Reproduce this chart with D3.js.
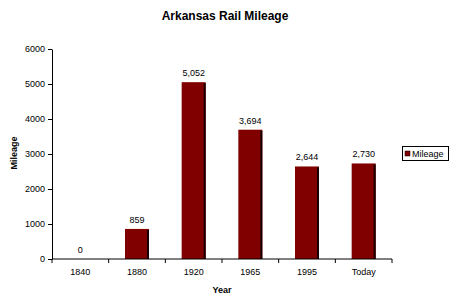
<!DOCTYPE html>
<html><head><meta charset="utf-8">
<script src="https://cdn.jsdelivr.net/npm/d3@7"></script>
<style>body{margin:0;background:#fff}svg{display:block;font-family:"Liberation Sans",Arial,sans-serif}</style>
</head><body><svg id="c" width="451" height="305"></svg>
<script>
const categories = ["1840","1880","1920","1965","1995","Today"];
const mileage = [0, 859, 5052, 3694, 2644, 2730];
const yTicks = [0,1000,2000,3000,4000,5000,6000];

(function(){
const svg = d3.select("#c");
const pLeft = 52, pRight = 392, pTop = 49, pBottom = 259;
const x = d3.scaleBand().domain(categories).range([pLeft, pRight]).paddingInner(0).paddingOuter(0);
const y = d3.scaleLinear().domain([0, 6000]).range([pBottom, pTop]);
const barW = 24;

svg.append("text").attr("x", 225).attr("y", 20).attr("text-anchor", "middle")
  .attr("font-size", 12).attr("font-weight", "bold").text("Arkansas Rail Mileage");

const g = svg.append("g");
categories.forEach((c, i) => {
  const v = mileage[i];
  const cx = x(c) + x.bandwidth() / 2;
  const h = pBottom - y(v);
  if (h > 0) {
    g.append("rect").attr("x", cx - barW / 2).attr("y", y(v)).attr("width", barW).attr("height", h).attr("fill", "#800000");
    g.append("rect").attr("x", cx + barW / 2 - 2).attr("y", y(v) + 1).attr("width", 2).attr("height", h - 1).attr("fill", "#1a0000");
  }
  g.append("text").attr("x", cx).attr("y", y(v) - 6).attr("text-anchor", "middle")
    .attr("font-size", 9).text(d3.format(",")(v));
});

const ya = svg.append("g").attr("transform", `translate(${pLeft},0)`)
  .call(d3.axisLeft(y).tickValues(yTicks).tickSize(4).tickSizeOuter(0).tickFormat(d3.format("d")));
ya.selectAll("text").attr("font-size", 9).attr("font-family", "Liberation Sans, Arial, sans-serif").attr("fill", "#000");
ya.selectAll("line,path").attr("stroke", "#000");

const xa = svg.append("g").attr("transform", `translate(0,${pBottom})`)
  .call(d3.axisBottom(x).tickSize(0).tickPadding(10));
xa.selectAll("text").attr("font-size", 9).attr("font-family", "Liberation Sans, Arial, sans-serif").attr("fill", "#000");
xa.select("path").attr("stroke", "#000").attr("d", `M${pLeft},0H${pRight}`);
const bounds = categories.map(c => x(c)).concat([pRight]);
xa.selectAll(".bnd").data(bounds).enter().append("line")
  .attr("x1", d => d).attr("x2", d => d).attr("y1", 0).attr("y2", 4).attr("stroke", "#000");

svg.append("text").attr("x", 222).attr("y", 293).attr("text-anchor", "middle")
  .attr("font-size", 9).attr("font-weight", "bold").text("Year");
svg.append("text").attr("transform", "translate(17,153) rotate(-90)").attr("text-anchor", "middle")
  .attr("font-size", 9).attr("font-weight", "bold").text("Mileage");

const lg = svg.append("g");
lg.append("rect").attr("x", 402.5).attr("y", 146.5).attr("width", 46).attr("height", 14)
  .attr("fill", "#fff").attr("stroke", "#000");
lg.append("rect").attr("x", 405).attr("y", 151).attr("width", 5).attr("height", 5).attr("fill", "#800000").attr("stroke","#000").attr("stroke-width",0.5);
lg.append("text").attr("x", 412).attr("y", 157).attr("font-size", 9).text("Mileage");
})();
</script></body></html>
